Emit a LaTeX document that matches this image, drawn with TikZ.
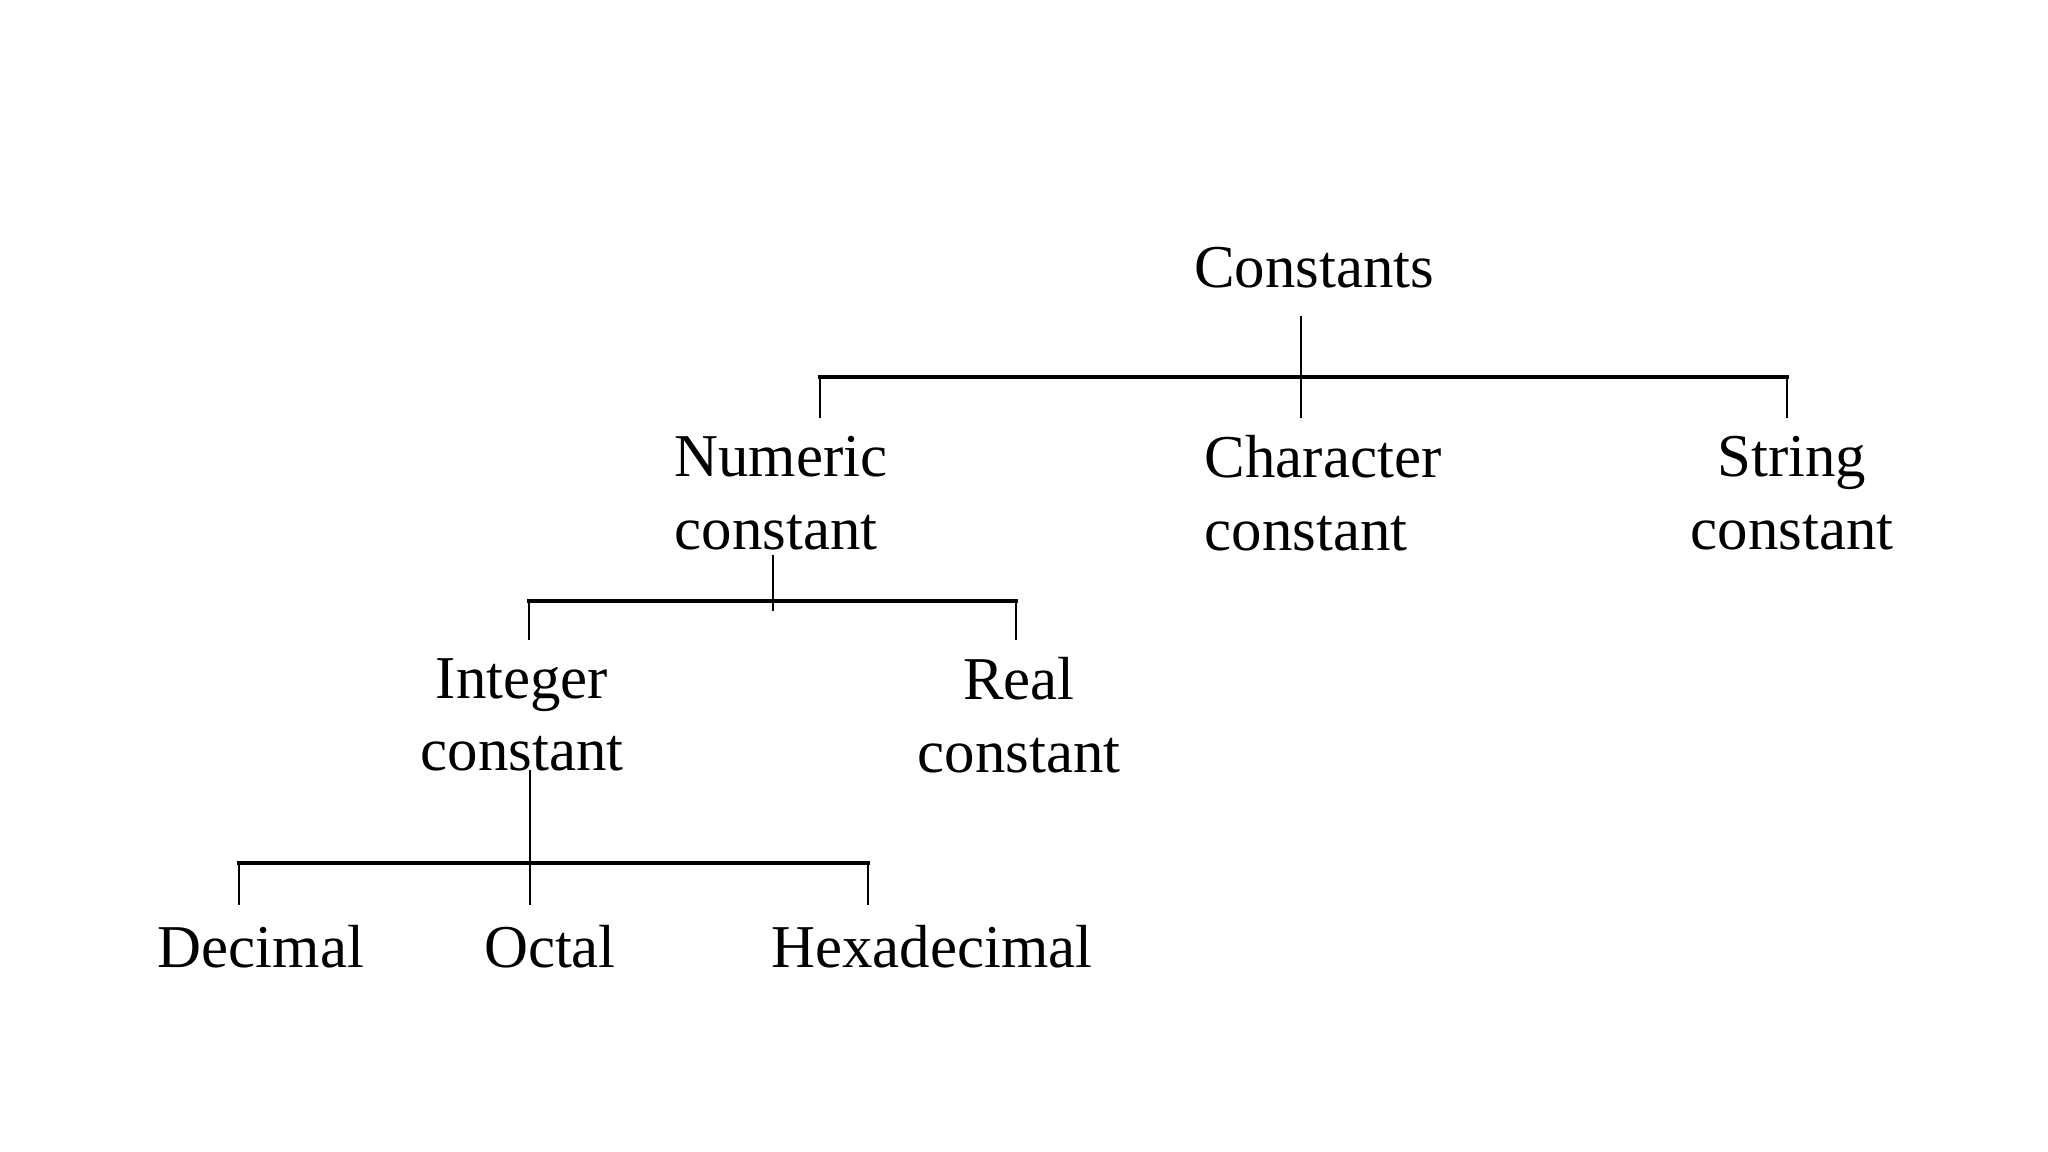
\documentclass[tikz,border=0pt]{standalone}
\usepackage{fontspec}
\setmainfont{Liberation Serif}
\usepackage{tikz}
\usetikzlibrary{positioning,calc}

\begin{document}
\begin{tikzpicture}[x=0.01cm,y=-0.01cm]
  \tikzstyle{item}=[align=center, inner sep=0pt, font=\fontsize{17.3}{20.6}\selectfont]
  \tikzstyle{bar}=[line width=0.9pt, line cap=rect]
  \tikzstyle{stem}=[line width=0.6pt]
  \useasboundingbox (0,0) rectangle (2048,1152);
  % top level
  \node[item] (constants) at (1314,268) {Constants};
  \node[item, align=left] (numeric) at (781,493) {Numeric\\constant};
  \node[item, align=left] (character) at (1323,493) {Character\\constant};
  \node[item] (string) at (1792,493) {String\\constant};
  % numeric level
  \node[item] (integer) at (522,715) {Integer\\constant};
  \node[item] (real) at (1019,715) {Real\\constant};
  % integer level
  \node[item] (decimal) at (261,947) {Decimal};
  \node[item] (octal) at (550,947) {Octal};
  \node[item] (hexa) at (932,947) {Hexadecimal};
  % junctions
  \coordinate (c-top) at (1301,316);
  \coordinate (c-end) at (1301,418);
  \coordinate (n-bar) at (820,377);
  \coordinate (n-end) at (820,418);
  \coordinate (s-bar) at (1787,377);
  \coordinate (s-end) at (1787,418);
  \coordinate (nc-top) at (773,555);
  \coordinate (nc-end) at (773,611);
  \coordinate (i-bar) at (529,601);
  \coordinate (i-end) at (529,640);
  \coordinate (r-bar) at (1016,601);
  \coordinate (r-end) at (1016,640);
  \coordinate (ic-top) at (530,770);
  \coordinate (ic-end) at (530,905);
  \coordinate (d-bar) at (239,863);
  \coordinate (d-end) at (239,905);
  \coordinate (h-bar) at (868,863);
  \coordinate (h-end) at (868,905);
  % connectors
  \draw[bar] (n-bar) -- (s-bar);
  \draw[stem] (c-top) -- (c-end);
  \draw[stem] (n-bar) -- (n-end);
  \draw[stem] (s-bar) -- (s-end);
  \draw[bar] (i-bar) -- (r-bar);
  \draw[stem] (nc-top) -- (nc-end);
  \draw[stem] (i-bar) -- (i-end);
  \draw[stem] (r-bar) -- (r-end);
  \draw[bar] (d-bar) -- (h-bar);
  \draw[stem] (ic-top) -- (ic-end);
  \draw[stem] (d-bar) -- (d-end);
  \draw[stem] (h-bar) -- (h-end);
\end{tikzpicture}
\end{document}
